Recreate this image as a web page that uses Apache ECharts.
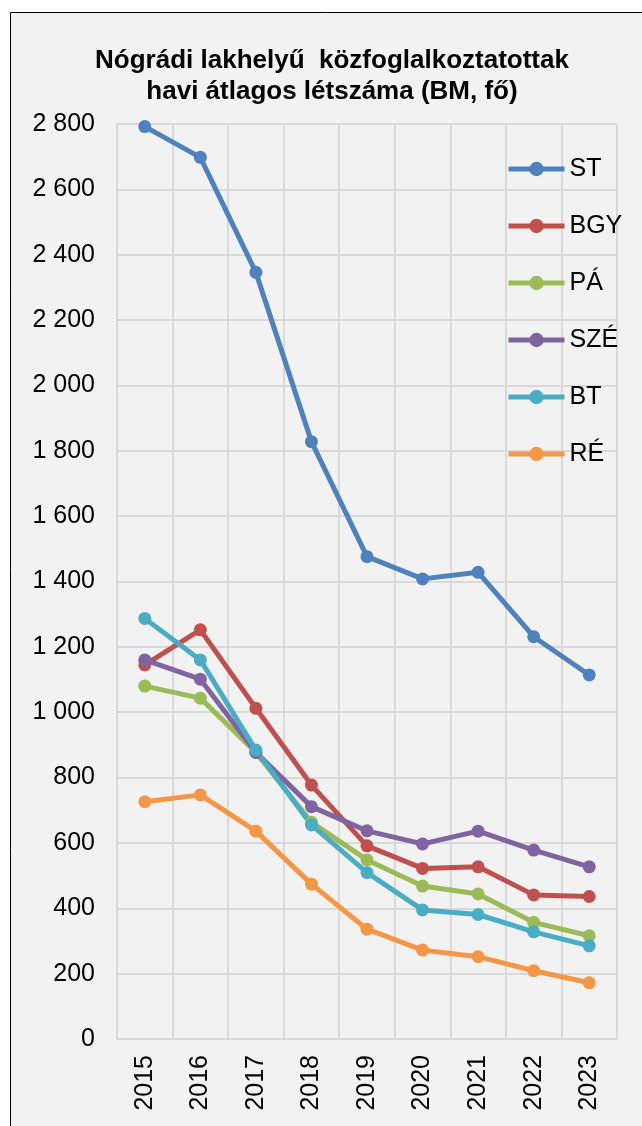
<!DOCTYPE html>
<html>
<head>
  <meta charset="utf-8" />
  <title>ECharts</title>
  <script src="https://cdn.jsdelivr.net/npm/echarts@6/dist/echarts.min.js"></script>
  <style>
    html, body { margin: 0; padding: 0; background: #fff; }
  </style>
</head>
<body>
<div id="main" style="width:642px;height:1126px;"></div>
<script type="text/javascript">
  // years on the x axis
  var years = ['2015', '2016', '2017', '2018', '2019', '2020', '2021', '2022', '2023'];

  // monthly average headcount per district
  var ST  = [2792, 2698, 2346, 1828, 1476, 1408, 1428, 1231, 1114];
  var BGY = [1145, 1252, 1012, 777, 591, 522, 527, 441, 436];
  var PA  = [1080, 1043, 877, 663, 548, 468, 444, 357, 316];
  var SZE = [1160, 1101, 877, 711, 637, 597, 636, 578, 527];
  var BT  = [1287, 1160, 884, 655, 509, 395, 381, 328, 285];
  var RE  = [726, 747, 636, 474, 336, 272, 252, 209, 172];

  var names = ['ST', 'BGY', 'PÁ', 'SZÉ', 'BT', 'RÉ'];
  var values = [ST, BGY, PA, SZE, BT, RE];
  var colors = ['#4F81BD', '#C0504D', '#9BBB59', '#8064A2', '#4BACC6', '#F79646'];

  var font = 'Liberation Sans, Arial, sans-serif';

  var myChart = echarts.init(document.getElementById('main'));

  var series = names.map(function (n, i) {
    return {
      name: n,
      type: 'line',
      data: values[i],
      symbol: 'circle',
      symbolSize: 13,
      color: colors[i],
      lineStyle: { width: 5, color: colors[i] },
      itemStyle: { color: colors[i] }
    };
  });

  var option = {
    backgroundColor: '#fff',
    animation: false,
    textStyle: { fontFamily: font },
    graphic: [
      {
        type: 'rect',
        z: -10,
        silent: true,
        shape: { x: 10.5, y: 12.5, width: 700, height: 1200 },
        style: { fill: '#f2f2f2', stroke: '#000', lineWidth: 1 }
      }
    ],
    title: {
      text: 'Nógrádi lakhelyű  közfoglalkoztatottak\nhavi átlagos létszáma (BM, fő)',
      left: 327,
      top: 40,
      textAlign: 'center',
      textStyle: {
        fontFamily: font,
        fontSize: 26,
        fontWeight: 'bold',
        color: '#000',
        lineHeight: 31
      }
    },
    legend: {
      data: names,
      orient: 'vertical',
      left: 506,
      top: 156,
      padding: 0,
      itemWidth: 56,
      itemHeight: 18,
      itemGap: 31,
      lineStyle: { width: 5 },
      textStyle: { fontFamily: font, fontSize: 25, color: '#000', lineHeight: 26 }
    },
    grid: {
      left: 117,
      right: 25,
      top: 124,
      bottom: 87,
      containLabel: false
    },
    xAxis: {
      type: 'category',
      data: years,
      boundaryGap: true,
      axisLine: { lineStyle: { color: '#d9d9d9', width: 2 } },
      axisTick: { show: false },
      axisLabel: {
        rotate: 90,
        margin: 16,
        fontFamily: font,
        fontSize: 25,
        color: '#000'
      },
      splitLine: { show: true, lineStyle: { color: '#d9d9d9', width: 2 } }
    },
    yAxis: {
      type: 'value',
      min: 0,
      max: 2800,
      interval: 200,
      axisLine: { show: false },
      axisTick: { show: false },
      axisLabel: {
        margin: 22,
        fontFamily: font,
        fontSize: 25,
        color: '#000',
        formatter: function (v) {
          return String(v).replace(/\B(?=(\d{3})+(?!\d))/g, ' ');
        }
      },
      splitLine: { lineStyle: { color: '#d9d9d9', width: 2 } }
    },
    series: series
  };

  myChart.setOption(option);
</script>
</body>
</html>
